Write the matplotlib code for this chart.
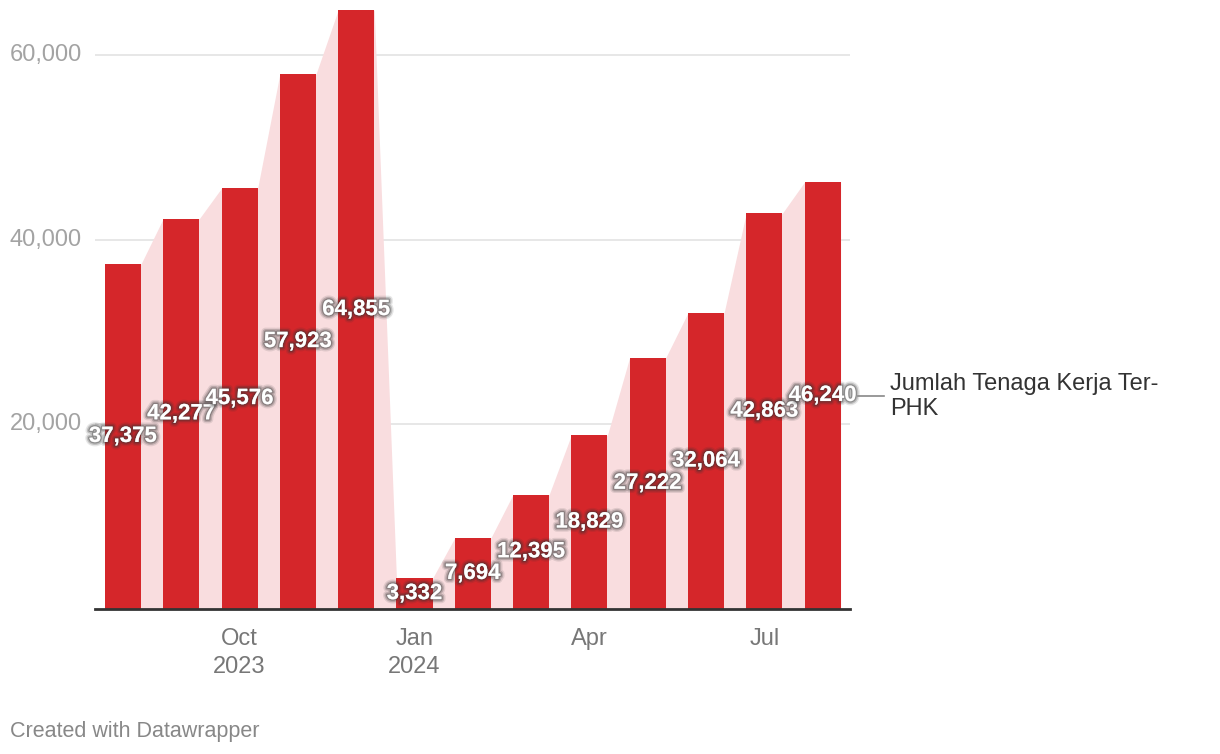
import numpy as np
import matplotlib
matplotlib.use("Agg")
import matplotlib.pyplot as plt
import matplotlib.patheffects as pe

plt.rcParams['font.family'] = ['Liberation Sans', 'DejaVu Sans']

months = ['Aug 2023', 'Sep 2023', 'Oct 2023', 'Nov 2023', 'Dec 2023',
          'Jan 2024', 'Feb 2024', 'Mar 2024', 'Apr 2024', 'May 2024',
          'Jun 2024', 'Jul 2024', 'Aug 2024']
values = [37375, 42277, 45576, 57923, 64855, 3332, 7694, 12395,
          18829, 27222, 32064, 42863, 46240]
tick_idx = [2, 5, 8, 11]
tick_labels = ['Oct\n2023', 'Jan\n2024', 'Apr', 'Jul']
yticks = [20000, 40000, 60000]
series_name = 'Jumlah Tenaga Kerja Ter-\nPHK'

bar_red = '#d5262a'
pink = '#f9dddf'
W, H = 1220, 754

fig = plt.figure(figsize=(W / 100, H / 100), dpi=100)
ax = fig.add_axes([95 / W, 1 - 609 / H, (850 - 95) / W, 609 / H])

x = np.arange(len(values))
bw = 0.62

# pink area linking bar tops
ax_x, ax_y = [], []
for xi, v in zip(x, values):
    ax_x += [xi - bw / 2, xi + bw / 2]
    ax_y += [v, v]
ax.fill_between(ax_x, ax_y, 0, color=pink, lw=0, zorder=1)

ax.bar(x, values, width=bw, color=bar_red, zorder=2, clip_on=False)

ax.set_xlim(-0.48, 12.47)
ax.set_ylim(0, 609 / 554 * 60000)

for yt in yticks:
    ax.axhline(yt, color='#e3e3e3', lw=1.2, zorder=0.5)
    fig.text(10 / W, ax.transData.transform((0, yt))[1] / H,
             f'{yt:,}', ha='left', va='center', color='#a3a3a3', fontsize=17)
ax.axhline(0, color='#333333', lw=2, zorder=3, clip_on=False)

for s in ax.spines.values():
    s.set_visible(False)
ax.set_yticks([])
ax.set_xticks(tick_idx)
ax.set_xticklabels(tick_labels, color='#777777', fontsize=17, linespacing=1.35)
ax.tick_params(axis='x', length=0, pad=14)

# soft dark glow behind white value labels
glow = [pe.withStroke(linewidth=6, foreground='#333333', alpha=0.12),
        pe.withStroke(linewidth=4, foreground='#333333', alpha=0.22),
        pe.withStroke(linewidth=2, foreground='#333333', alpha=0.35)]
for xi, v in zip(x, values):
    ax.text(xi, v / 2, f'{v:,}', ha='center', va='center', color='white',
            fontsize=16, fontweight='bold', zorder=5, path_effects=glow)

# series label on the right
ly = ax.transData.transform((0, values[-1] / 2))[1]
fig.add_artist(plt.Line2D([858 / W, 884 / W], [ly / H, ly / H],
                          color='#888888', lw=1.2))
fig.text(890 / W, ly / H - 1 / H, series_name, ha='left', va='center',
         color='#333333', fontsize=17, linespacing=1.15)

fig.text(10 / W, 1 - 731 / H, 'Created with Datawrapper', ha='left',
         va='center', color='#888888', fontsize=15.5)

fig.savefig('out.png', dpi=100)
